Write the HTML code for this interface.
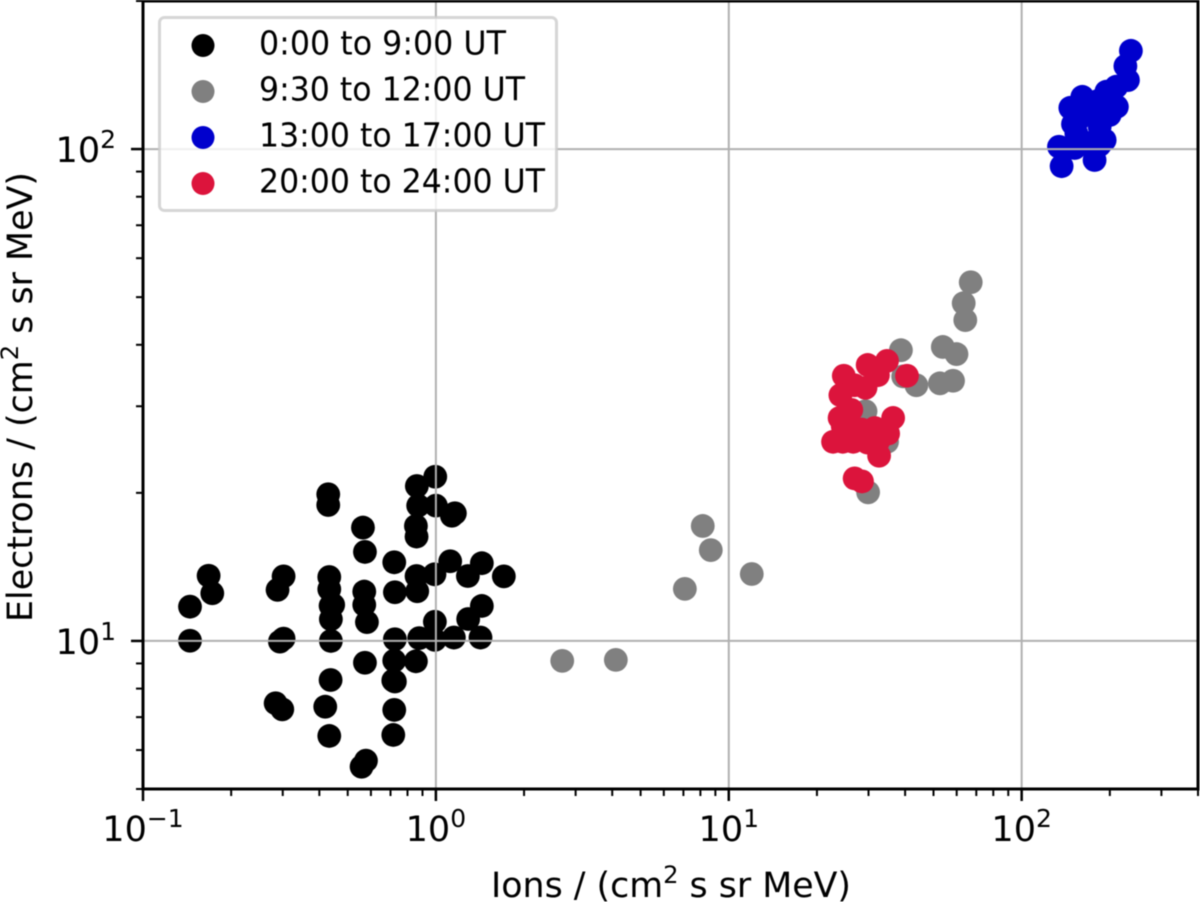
<!DOCTYPE html>
<html lang="en">
<head>
<meta charset="utf-8">
<title>Electrons vs Ions scatter</title>
<style>
html,body{margin:0;padding:0;background:#fff;width:1200px;height:902px;overflow:hidden}
svg{display:block;filter:blur(0.5px)}
text{font-family:"DejaVu Sans","Liberation Sans",sans-serif;fill:#000}
</style>
</head>
<body>
<svg id="chart" xmlns="http://www.w3.org/2000/svg" width="1200" height="902" viewBox="0 0 1200 902">
  <rect x="0" y="0" width="1200" height="902" fill="#fff"/>
  <g id="points"></g>
  <g id="grid"></g>
  <g id="ticks"></g>
  <rect x="143" y="1" width="1055" height="788" fill="none" stroke="#000" stroke-width="3"/>
  <g id="tick-labels"></g>
  <text x="671" y="897" font-size="34.5" text-anchor="middle" textLength="360" lengthAdjust="spacingAndGlyphs">Ions / (cm<tspan dy="-14" font-size="24">2</tspan><tspan dy="14"> s sr MeV)</tspan></text>
  <text transform="translate(32,397) rotate(-90)" x="0" y="0" font-size="34.5" text-anchor="middle" textLength="450" lengthAdjust="spacingAndGlyphs">Electrons / (cm<tspan dy="-14" font-size="24">2</tspan><tspan dy="14"> s sr MeV)</tspan></text>
  <g>
    <rect x="159.5" y="17.5" width="397" height="193" rx="5" ry="5" fill="#fff" fill-opacity="0.8" stroke="#ccc" stroke-opacity="0.8" stroke-width="3"/>
    <g>
      <circle cx="203" cy="45.5" r="11.5" fill="#000"/>
      <text x="259" y="54.5" font-size="33" textLength="247" lengthAdjust="spacingAndGlyphs">0:00 to 9:00 UT</text>
    </g>
    <g>
      <circle cx="203" cy="91.5" r="11.5" fill="#808080"/>
      <text x="259" y="100.5" font-size="33" textLength="266" lengthAdjust="spacingAndGlyphs">9:30 to 12:00 UT</text>
    </g>
    <g>
      <circle cx="203" cy="137.5" r="11.5" fill="#0000cd"/>
      <text x="259" y="146.5" font-size="33" textLength="286" lengthAdjust="spacingAndGlyphs">13:00 to 17:00 UT</text>
    </g>
    <g>
      <circle cx="203" cy="183.5" r="11.5" fill="#dc143c"/>
      <text x="259" y="192.5" font-size="33" textLength="286" lengthAdjust="spacingAndGlyphs">20:00 to 24:00 UT</text>
    </g>
  </g>
</svg>
<script>
const blackIons = [0.1447,0.1447,0.1675,0.1724,0.302,0.288,0.2934,0.302,0.429,0.429,0.5636,0.5725,0.4325,0.4325,0.446,0.438,0.438,0.437,0.5694,0.5694,0.5815,0.5725,0.437,0.419,0.4325,0.2837,0.2989,0.7208,0.7245,0.859,0.8636,0.989,1.119,1.286,1.435,1.706,1.435,1.289,0.992,1.152,1.42,0.992,0.877,0.7245,0.7208,0.8547,0.7245,0.7154,0.7208,0.7154,0.5771,0.5576,0.995,0.861,0.87,1.0,1.161,1.134,0.8547,0.859];
const blackElectrons = [10.01,11.74,13.57,12.5,13.53,12.7,9.97,10.11,19.87,18.9,17.0,15.17,13.49,12.74,11.84,11.07,10.0,11.79,12.6,11.84,10.92,9.03,8.33,7.35,6.41,7.47,7.26,14.45,12.56,13.55,12.62,13.66,14.52,13.55,14.39,13.53,11.78,11.08,10.94,10.16,10.16,10.05,10.13,10.08,9.12,9.09,8.27,8.31,7.24,6.44,5.71,5.55,21.57,20.65,18.84,18.84,18.18,17.97,17.13,16.3];
const grayIons = [2.70,4.115,7.08,8.15,8.68,11.98,67.0,63.4,64.2,53.8,59.9,38.7,52.6,58.3,43.7,39.4,29.3,34.7,29.9];
const grayElectrons = [9.11,9.15,12.76,17.13,15.3,13.68,53.6,48.6,44.9,39.6,38.3,39.0,33.4,33.8,33.1,34.5,29.3,25.4,20.05];
const blueIons = [236,226,230.6,161.1,146.6,211.4,194.6,210.4,149.7,184.6,134.1,136.9,177.4,192,161.9,175,157.8,192,153.7,181.7,199.7,155.3,184.6,151.7];
const blueElectrons = [158.4,147.5,138.1,127.7,121.3,121.9,130.8,133.9,112.4,111.0,101.1,92.3,95.0,104.3,103.5,120,120,121.9,107.6,125.2,117.3,114.5,101.9,100.5];
const redIons = [24.7,24.05,29.8,34.7,40.6,32.3,29.3,26.9,26.2,23.9,22.7,24.5,26.6,28.4,24.5,25.9,36.4,35.0,32.3,32.6,26.9,28.5,27.6,31.1,29.8,31.5];
const redElectrons = [34.6,31.6,36.4,37.1,34.6,34.7,32.7,33.1,29.5,28.4,25.4,25.4,25.4,26.9,27.3,27.7,28.4,26.4,25.4,23.8,21.4,21.1,25.8,26.0,25.3,27.1];
const xMajorTicks = [0.1,1,10,100];
const yMajorTicks = [10,100];
const xTickExponents = ["\u22121","0","1","2"];
const yTickExponents = ["1","2"];
const xDomain = [0.1,400];
const yDomain = [5,200];
const minorMultiples = [2,3,4,5,6,7,8,9];

const NS = "http://www.w3.org/2000/svg";
const plotLeft = 143, plotRight = 1198, plotBottom = 789, plotTop = 1;
function xScale(v){
  return plotLeft + (Math.log10(v) - Math.log10(xDomain[0])) / (Math.log10(xDomain[1]) - Math.log10(xDomain[0])) * (plotRight - plotLeft);
}
function yScale(v){
  return plotBottom - (Math.log10(v) - Math.log10(yDomain[0])) / (Math.log10(yDomain[1]) - Math.log10(yDomain[0])) * (plotBottom - plotTop);
}
function makeLine(parent, x1, y1, x2, y2, color, width){
  const l = document.createElementNS(NS, "line");
  l.setAttribute("x1", x1);
  l.setAttribute("y1", y1);
  l.setAttribute("x2", x2);
  l.setAttribute("y2", y2);
  l.setAttribute("stroke", color);
  l.setAttribute("stroke-width", width);
  parent.appendChild(l);
  return l;
}
function drawSeries(xs, ys, color, name){
  const g = document.createElementNS(NS, "g");
  
  
  xs.forEach(function(x, i){
    const c = document.createElementNS(NS, "circle");
    
    
    c.setAttribute("cx", xScale(x));
    c.setAttribute("cy", yScale(ys[i]));
    c.setAttribute("r", 11.9);
    c.setAttribute("fill", color);
    g.appendChild(c);
  });
  document.getElementById("points").appendChild(g);
}
drawSeries(blackIons, blackElectrons, "#000000", "series-0-9-ut");
drawSeries(grayIons, grayElectrons, "#808080", "series-9-12-ut");
drawSeries(blueIons, blueElectrons, "#0000cd", "series-13-17-ut");
drawSeries(redIons, redElectrons, "#dc143c", "series-20-24-ut");

const gridG = document.getElementById("grid");
const tickG = document.getElementById("ticks");
const labelG = document.getElementById("tick-labels");
function makeTickLabel(x, y, anchor, exponent, name){
  const t = document.createElementNS(NS, "text");
  
  
  t.setAttribute("x", x);
  t.setAttribute("y", y);
  t.setAttribute("font-size", 35);
  t.setAttribute("text-anchor", anchor);
  t.appendChild(document.createTextNode("10"));
  const s = document.createElementNS(NS, "tspan");
  s.setAttribute("dy", -14);
  s.setAttribute("font-size", 25);
  s.textContent = exponent;
  t.appendChild(s);
  labelG.appendChild(t);
}
xMajorTicks.forEach(function(v, i){
  const px = xScale(v);
  const gl = makeLine(gridG, px, plotTop, px, plotBottom, "#b0b0b0", 2);
  
  
  const tk = makeLine(tickG, px, plotBottom, px, plotBottom + 12, "#000", 2.5);
  
  
  makeTickLabel(px, 841, "middle", xTickExponents[i], "x-tick-label");
  minorMultiples.forEach(function(m){
    const mv = v * m;
    if (mv > xDomain[1]) return;
    const mpx = xScale(mv);
    const mt = makeLine(tickG, mpx, plotBottom, mpx, plotBottom + 7, "#000", 2);
    
    
  });
});
yMajorTicks.forEach(function(v, i){
  const py = yScale(v);
  const gl = makeLine(gridG, plotLeft, py, plotRight, py, "#b0b0b0", 2);
  
  
  const tk = makeLine(tickG, plotLeft - 12, py, plotLeft, py, "#000", 2.5);
  
  
  makeTickLabel(116, py + 13, "end", yTickExponents[i], "y-tick-label");
});
[1,10,100].forEach(function(decade){
  minorMultiples.forEach(function(m){
    const mv = decade * m;
    if (mv < yDomain[0] || mv > yDomain[1]) return;
    const mpy = yScale(mv);
    const mt = makeLine(tickG, plotLeft - 7, mpy, plotLeft, mpy, "#000", 2);
    
    
  });
});
</script>
</body>
</html>
